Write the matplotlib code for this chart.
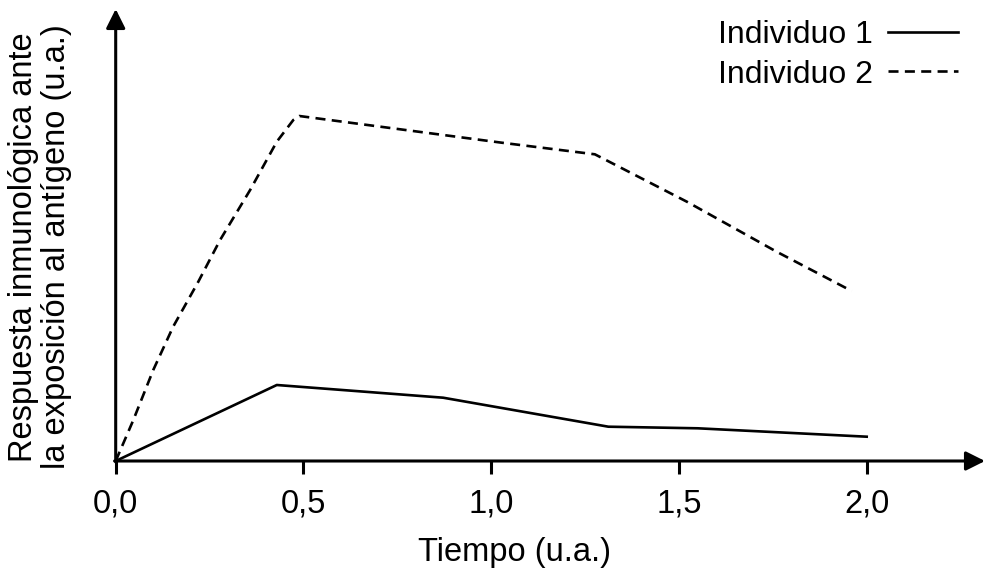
import matplotlib
matplotlib.use("Agg")
import matplotlib.pyplot as plt
from matplotlib.ticker import FuncFormatter

matplotlib.rcParams.update({'font.size': 23.5, 'font.family': ['Liberation Sans', 'DejaVu Sans']})

# datos (unidades arbitrarias)
tiempo1 = [0, 0.429, 0.872, 1.312, 1.55, 2.0]
resp1 = [0, 0.76, 0.633, 0.343, 0.327, 0.243]
tiempo2 = [0, 0.047, 0.100, 0.153, 0.220, 0.278, 0.358, 0.429, 0.473, 0.489,
           1.028, 1.276, 1.521, 1.76, 1.96]
resp2 = [0, 0.41, 0.91, 1.343, 1.793, 2.21, 2.71, 3.193, 3.41, 3.45,
         3.183, 3.067, 2.593, 2.093, 1.70]
xticks = [0, 0.5, 1.0, 1.5, 2.0]
labels = ["Individuo 1", "Individuo 2"]

W, H = 984, 574
fig = plt.figure(figsize=(W / 100, H / 100), dpi=100)
ax = fig.add_axes([0, 0, 1, 1])
# escala: origen en el pixel (115.7, 461)
ax.set_xlim(-115.7 / 375.5, (W - 115.7) / 375.5)
ax.set_ylim(-(H - 461) / 100, 461 / 100)

ax.plot(tiempo1, resp1, color='black', lw=1.9, label=labels[0])
ax.plot(tiempo2, resp2, color='black', lw=1.9, dashes=(3.8, 2.4), label=labels[1])

for s in ax.spines:
    ax.spines[s].set_visible(False)
ax.spines['left'].set_position(('data', 0))
ax.spines['bottom'].set_position(('data', 0))

arrow = dict(arrowstyle='-|>,head_length=0.4,head_width=0.2', lw=2.2, color='black',
             mutation_scale=29, shrinkA=0, shrinkB=0)
ax.annotate('', xy=((985 - 115.7) / 375.5, 0), xytext=(-0.003, 0), arrowprops=arrow, annotation_clip=False)
ax.annotate('', xy=(0, (461 - 9) / 100), xytext=(0, -0.01), arrowprops=arrow, annotation_clip=False)

ax.set_xticks(xticks)
ax.xaxis.set_major_formatter(FuncFormatter(lambda v, p: f"{v:.1f}".replace('.', ',')))
ax.tick_params(axis='x', direction='out', length=9.5, width=2.2, pad=10, labelsize=23.5)
ax.set_yticks([])

fig.text(514 / W, 1 - 553 / H, "Tiempo (u.a.)", ha='center', va='center', fontsize=23.5)
fig.text(40 / W, 1 - 247 / H, "Respuesta inmunológica ante\nla exposición al antígeno (u.a.)",
         ha='center', va='center', rotation=90, fontsize=23.5, multialignment='center', linespacing=1.1)

ax.legend(loc='upper right', bbox_to_anchor=(958 / W, 1 - 20 / H), markerfirst=False, frameon=False,
          fontsize=23, handlelength=2.2, handletextpad=0.45, borderpad=0, borderaxespad=0,
          labelspacing=0.3)

fig.savefig("out.png", dpi=100)
